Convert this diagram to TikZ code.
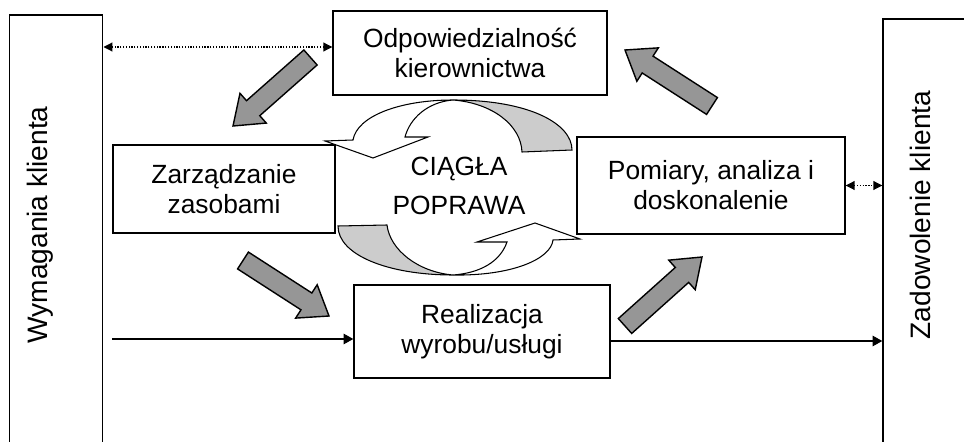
\documentclass[tikz,border=0pt]{standalone}
\usepackage{fontspec}
\setmainfont{Liberation Sans}
\usetikzlibrary{positioning,arrows.meta,calc}

\definecolor{arrowgray}{RGB}{150,150,150}
\definecolor{loopgray}{RGB}{204,204,204}

% gruba szara strzalka: #1 ogon, #2 grot
\newcommand{\grayarrow}[2]{%
  \coordinate (ga-n) at ($(#2)!15.3pt!(#1)$);
  \draw[bigarrow] ($(#1)!5.7pt!90:(#2)$) -- ($(ga-n)!5.7pt!-90:(#1)$)
    -- ($(ga-n)!11.3pt!-90:(#1)$) -- (#2) -- ($(ga-n)!11.3pt!90:(#1)$)
    -- ($(ga-n)!5.7pt!90:(#1)$) -- ($(#1)!5.7pt!-90:(#2)$) -- cycle;}

\begin{document}
\begin{tikzpicture}[x=0.02cm,y=-0.02cm,
    box/.style={draw,line width=0.85pt,align=center,inner sep=0pt,
      font=\fontsize{15}{17}\selectfont},
    sidetext/.style={rotate=90,anchor=base,font=\fontsize{16}{19}\selectfont},
    bigarrow/.style={draw,line width=0.8pt,fill=arrowgray,line join=miter},
    loopband/.style={draw,line width=0.6pt,line join=miter},
    dotarrow/.style={line width=0.6pt,dash pattern=on 0.7pt off 0.9pt,
      {Triangle[length=5pt,width=5pt]}-{Triangle[length=5pt,width=5pt]}},
    flow/.style={line width=0.6pt,-{Triangle[length=5.5pt,width=6pt]}}]

    \clip (0,0) rectangle (964,442);

    % klient
    \node (W) [box, minimum width=1.87cm, minimum height=9.1cm] at (56,242.5) {};
    \node (Z) [box, minimum width=2.34cm, minimum height=9.02cm] at (941.5,244.5) {};
    \node (Wt) [sidetext] at (48,225) {Wymagania klienta};
    \node (Zt) [sidetext] at (930,215) {Zadowolenie klienta};

    % procesy
    \node (O) [box, minimum width=5.48cm, minimum height=1.68cm] at (470,53) {Odpowiedzialność\\kierownictwa};
    \node (M) [box, minimum width=4.44cm, minimum height=1.76cm] at (224,189) {Zarządzanie\\zasobami};
    \node (P) [box, minimum width=5.36cm, minimum height=1.94cm] at (711,185.5) {Pomiary, analiza i\\doskonalenie};
    \node (R) [box, minimum width=5.12cm, minimum height=1.86cm] at (482,331.5) {Realizacja\\wyrobu/usługi};

    % ciagla poprawa
    \filldraw[loopband, fill=white] (453,100) .. controls (400,100) and (357,116) .. (353,140)
        -- (325,141) -- (373,158) -- (428,137) -- (405,137)
        .. controls (410,118) and (428,102) .. (453,100);
    \filldraw[loopband, fill=loopgray] (453,100) .. controls (530,100) and (572,124) .. (572,150)
        -- (522,152) .. controls (521,125) and (492,103) .. (453,100);
    \filldraw[loopband, fill=white] (453,275) .. controls (512,276) and (551,259) .. (553,240)
        -- (580,239) -- (535,223) -- (477,242) -- (507,242)
        .. controls (500,262) and (480,273) .. (453,275);
    \filldraw[loopband, fill=loopgray] (453,275) .. controls (388,275) and (338,255) .. (338,226)
        -- (387,225) .. controls (390,250) and (418,272) .. (453,275);
    \node (C) [align=center, font=\fontsize{15}{22}\selectfont] at (459,186) {CIĄGŁA\\POPRAWA};

    % strzalki
    \draw[dotarrow] ([yshift=0.12cm]O.west) -- ([yshift=0.12cm]O.west -| W.east);
    \draw[dotarrow] (P.east) -- (P.east -| Z.west);
    \coordinate (in) at ([yshift=-0.15cm]R.west -| W.east);
    \draw[flow] ([xshift=0.18cm]in) -- ([yshift=-0.15cm]R.west);
    \draw[flow] ([yshift=-0.19cm]R.east) -- ([yshift=-0.19cm]R.east -| Z.west);

    \coordinate (a1) at (310.5,57.5);  \coordinate (b1) at (233,126);
    \coordinate (a2) at (243,260.5);   \coordinate (b2) at (329,316);
    \coordinate (a3) at (625,326);     \coordinate (b3) at (702,257);
    \coordinate (a4) at (712,106);     \coordinate (b4) at (625,50);
    \grayarrow{a1}{b1}
    \grayarrow{a2}{b2}
    \grayarrow{a3}{b3}
    \grayarrow{a4}{b4}

\end{tikzpicture}
\end{document}
